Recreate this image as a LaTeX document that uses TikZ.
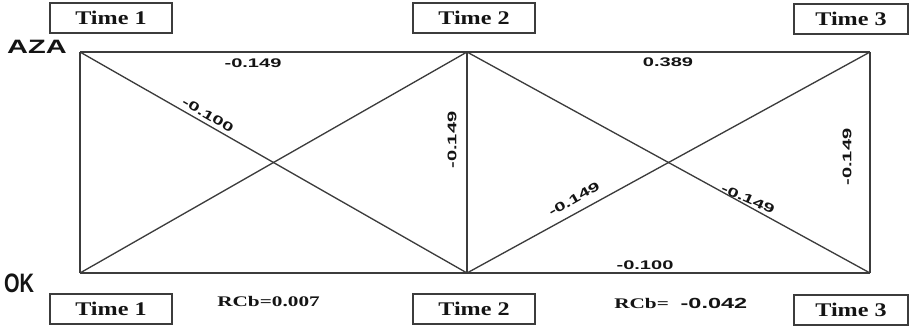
\documentclass[tikz,border=0pt]{standalone}
\usepackage{fontspec}
\newfontfamily\timefont[FakeStretch=1.25]{Liberation Serif}
\newfontfamily\rcbfont[FakeStretch=1.45]{Liberation Serif}
\newfontfamily\numfont[FakeStretch=1.6]{Liberation Sans}
\newfontfamily\headfont[FakeStretch=1.5]{Liberation Sans}
\newfontfamily\okfont[FakeStretch=0.75]{Liberation Sans}
\usepackage{xcolor}
\definecolor{LineGray}{RGB}{60,60,60}
\definecolor{TextBlack}{RGB}{20,20,20}
\usepackage{tikz}
\usetikzlibrary{
    positioning
}
\tikzset{
    timebox/.style={
        draw=LineGray,
        line width=1.4pt,
        minimum width=91.5pt,
        minimum height=22pt,
        inner sep=0pt,
        text=TextBlack,
        font=\timefont\bfseries\fontsize{14.5}{16}\selectfont
    },
    corrlabel/.style={
        text=TextBlack,
        inner sep=1pt,
        font=\numfont\bfseries\fontsize{9.4}{11}\selectfont
    },
    rcblabel/.style={
        text=TextBlack,
        inner sep=0pt,
        anchor=west,
        font=\rcbfont\bfseries\fontsize{11}{12}\selectfont
    },
    edge/.style={
        draw=LineGray,
        line width=1.4pt
    },
    diag/.style={
        draw=LineGray,
        line width=1.0pt
    }
}

\begin{document}
\begin{tikzpicture}[x=0.75pt,y=-0.75pt]
%
    \useasboundingbox (0,0) rectangle (912,330);
%
    % Corners
%
    \coordinate (a1) at (80,52);
    \coordinate (a2) at (467,52);
    \coordinate (a3) at (870,52);
    \coordinate (o1) at (80,273);
    \coordinate (o2) at (467,273);
    \coordinate (o3) at (870,273);
%
    % Frame
%
    \draw[edge] (a1) -- (a3);
    \draw[edge] (o1) -- (o3);
    \draw[edge] (a1) -- (o1);
    \draw[edge] (a2) -- (o2);
    \draw[edge] (a3) -- (o3);
%
    % Cross-lagged paths
%
    \draw[diag] (a1) -- (o2);
    \draw[diag] (o1) -- (a2);
    \draw[diag] (a2) -- (o3);
    \draw[diag] (o2) -- (a3);
%
    % Time boxes
%
    \node[timebox] (time1-top) at (111,18) {Time 1};
    \node[timebox] (time2-top) at (474,18) {Time 2};
    \node[
        timebox,
        minimum width=85pt
    ] (time3-top) at (851,19) {Time 3};
    \node[timebox] (time1-bot) at (111,309) {Time 1};
    \node[timebox] (time2-bot) at (474,309) {Time 2};
    \node[
        timebox,
        minimum width=85pt
    ] (time3-bot) at (851,310) {Time 3};
%
    % Variables
%
    \node[
        text=TextBlack,
        inner sep=0pt,
        font=\headfont\bfseries\fontsize{14.5}{16}\selectfont
    ] (aza) at (37,47) {AZA};
    \node[
        text=TextBlack,
        inner sep=0pt,
        font=\okfont\bfseries\fontsize{20}{22}\selectfont
    ] (ok) at (19,283) {OK};
%
    % Coefficients
%
    \node[corrlabel] (aza12) at (253,63) {-0.149};
    \node[corrlabel] (aza23) at (668,62) {0.389};
    \node[corrlabel] (ok23) at (645,265) {-0.100};
    \node[
        corrlabel,
        rotate=90
    ] (ok12) at (452,140) {-0.149};
    \node[
        corrlabel,
        rotate=90
    ] (ok-right) at (847,157) {-0.149};
    \node[
        corrlabel,
        rotate=-30
    ] (cross-a12) at (208,115) {-0.100};
    \node[
        corrlabel,
        rotate=30
    ] (cross-o23) at (574,199) {-0.149};
    \node[
        corrlabel,
        rotate=-24
    ] (cross-a23) at (748,199) {-0.149};
%
    % Stability
%
    \node[rcblabel] (rcb1) at (217,302) {RCb=0.007};
    \node[rcblabel] (rcb2) at (614,303) {RCb=\hspace{0.8em}{\numfont -0.042}};
%
\end{tikzpicture}
\end{document}
